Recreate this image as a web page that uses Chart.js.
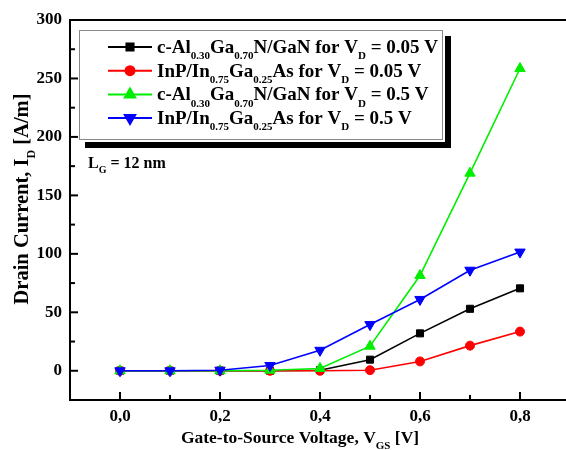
<!DOCTYPE html>
<html>
<head>
<meta charset="utf-8">
<script src="https://cdn.jsdelivr.net/npm/chart.js@4"></script>
<style>
  html, body { margin: 0; padding: 0; background: #fff; overflow: hidden; }
  #wrap { width: 580px; height: 450px; }
</style>
</head>
<body>
<div id="wrap"><canvas id="idChart" width="580" height="450"></canvas></div>
<script>
const vgs = [0.0, 0.1, 0.2, 0.3, 0.4, 0.5, 0.6, 0.7, 0.8];
const alganLow = [0, 0, 0, 0, 0.5, 9.5, 32, 53, 70.5];
const inpLow = [0, 0, 0, 0, 0, 0.5, 8, 21.5, 33.5];
const alganHigh = [0, 0, 0, 0.5, 2, 21, 81.5, 169, 258.5];
const inpHigh = [0, 0, 0.5, 4.5, 17.5, 39.5, 61, 86, 101.5];
const yTicks = [0, 50, 100, 150, 200, 250, 300];
const xTickLabels = ['0,0', '0,2', '0,4', '0,6', '0,8'];

const SERIF = '"Liberation Serif", "DejaVu Serif", serif';

// label pieces: [text, isSubscript]
const legendLabels = [
    [['c-Al', 0], ['0.30', 1], ['Ga', 0], ['0.70', 1], ['N/GaN for V', 0], ['D', 1], [' = 0.05 V', 0]],
    [['InP/In', 0], ['0.75', 1], ['Ga', 0], ['0.25', 1], ['As for V', 0], ['D', 1], [' = 0.05 V', 0]],
    [['c-Al', 0], ['0.30', 1], ['Ga', 0], ['0.70', 1], ['N/GaN for V', 0], ['D', 1], [' = 0.5 V', 0]],
    [['InP/In', 0], ['0.75', 1], ['Ga', 0], ['0.25', 1], ['As for V', 0], ['D', 1], [' = 0.5 V', 0]]
];

function toPoints(arr) {
    return arr.map((v, i) => ({ x: vgs[i], y: v }));
}

function richWidth(ctx, parts, size) {
    let w = 0;
    parts.forEach(([t, sub]) => {
        ctx.font = `bold ${sub ? Math.round(size * 0.6) : size}px ${SERIF}`;
        w += ctx.measureText(t).width;
    });
    return w;
}

function drawRich(ctx, parts, x, y, size) {
    ctx.textBaseline = 'alphabetic';
    ctx.textAlign = 'left';
    parts.forEach(([t, sub]) => {
        ctx.font = `bold ${sub ? Math.round(size * 0.6) : size}px ${SERIF}`;
        ctx.fillText(t, x, sub ? y + size * 0.33 : y);
        x += ctx.measureText(t).width;
    });
}

const decor = {
    id: 'decor',
    afterDraw(chart) {
        const ctx = chart.ctx;
        const a = chart.chartArea;
        const xs = chart.scales.x, ys = chart.scales.y;
        ctx.save();
        ctx.fillStyle = '#000';
        ctx.strokeStyle = '#000';

        // frame top
        ctx.lineWidth = 2;
        ctx.beginPath();
        ctx.moveTo(a.left, a.top);
        ctx.lineTo(a.right, a.top);
        ctx.lineTo(a.right, a.bottom);
        ctx.stroke();

        // inward ticks
        ctx.lineWidth = 2;
        for (let k = -1; k <= 9; k++) {
            const px = xs.getPixelForValue(k / 10);
            const len = k % 2 === 0 ? 8 : 5;
            ctx.beginPath();
            ctx.moveTo(px, a.bottom);
            ctx.lineTo(px, a.bottom - len);
            ctx.stroke();
        }
        for (let v = -25; v <= 300; v += 25) {
            const py = ys.getPixelForValue(v);
            const len = v % 50 === 0 ? 8 : 5;
            ctx.beginPath();
            ctx.moveTo(a.left, py);
            ctx.lineTo(a.left + len, py);
            ctx.stroke();
        }

        // legend box with shadow
        const bx = 79, by = 30, bw = 363, bh = 109;
        ctx.fillStyle = '#000';
        ctx.fillRect(bx + 6, by + bh + 3, bw + 1, 6);
        ctx.fillRect(bx + bw + 3, by + 6, 6, bh + 3);
        ctx.fillStyle = '#fff';
        ctx.fillRect(bx, by, bw, bh);
        ctx.strokeStyle = '#888';
        ctx.lineWidth = 1;
        ctx.strokeRect(bx + 0.5, by + 0.5, bw, bh);

        chart.data.datasets.forEach((ds, i) => {
            const cy = 47 + i * 23.7;
            ctx.strokeStyle = ds.borderColor;
            ctx.lineWidth = 2;
            ctx.beginPath();
            ctx.moveTo(108, cy);
            ctx.lineTo(152, cy);
            ctx.stroke();
            Chart.helpers.drawPoint(ctx, {
                pointStyle: ds.pointStyle,
                radius: ds.pointRadius,
                rotation: ds.pointRotation || 0,
                borderWidth: 1
            }, 130, cy);
            ctx.fillStyle = ds.borderColor;
            ctx.fill();
            ctx.fillStyle = '#000';
            drawRich(ctx, legendLabels[i], 157, cy + 6, 19);
        });

        // gate length note
        drawRich(ctx, [['L', 0], ['G', 1], [' = 12 nm', 0]], 88, 168, 16);

        // axis titles
        const xTitle = [['Gate-to-Source Voltage, V', 0], ['GS', 1], [' [V]', 0]];
        const xw = richWidth(ctx, xTitle, 17.5);
        drawRich(ctx, xTitle, 300 - xw / 2, 443, 17.5);

        const yTitle = [['Drain Current, I', 0], ['D', 1], [' [A/m]', 0]];
        const yw = richWidth(ctx, yTitle, 20.5);
        ctx.translate(28, 199);
        ctx.rotate(-Math.PI / 2);
        drawRich(ctx, yTitle, -yw / 2, 0, 20.5);
        ctx.restore();
    }
};

function series(data, color, style, radius, rot, order) {
    return {
        data: toPoints(data),
        borderColor: color,
        backgroundColor: color,
        borderWidth: 1.6,
        pointStyle: style,
        pointRadius: radius,
        pointRotation: rot,
        pointBorderWidth: 1,
        pointBackgroundColor: color,
        pointBorderColor: color,
        tension: 0,
        order: order
    };
}

new Chart(document.getElementById('idChart'), {
    type: 'line',
    data: {
        datasets: [
            series(alganLow, '#000000', 'rect', 5, 0, 4),
            series(inpLow, '#ff0000', 'circle', 4.5, 0, 3),
            series(alganHigh, '#00ee00', 'triangle', 6, 0, 2),
            series(inpHigh, '#0000ff', 'triangle', 6, 180, 1)
        ]
    },
    options: {
        responsive: false,
        animation: false,
        layout: { padding: { top: 20, right: 10, left: 0, bottom: 0 } },
        plugins: {
            legend: { display: false },
            tooltip: { enabled: false }
        },
        scales: {
            x: {
                type: 'linear',
                min: -0.1,
                max: 0.9,
                afterFit: s => { s.height = 50; },
                afterBuildTicks: s => { s.ticks = [0, 0.2, 0.4, 0.6, 0.8].map(v => ({ value: v })); },
                grid: { display: false, drawTicks: false },
                border: { display: true, color: '#000', width: 2 },
                ticks: {
                    padding: 6,
                    color: '#000',
                    font: { family: SERIF, size: 17, weight: 'bold' },
                    callback: (v, i) => xTickLabels[i]
                }
            },
            y: {
                min: -25,
                max: 300,
                afterFit: s => { s.width = 70; },
                afterBuildTicks: s => { s.ticks = yTicks.map(v => ({ value: v })); },
                grid: { display: false, drawTicks: false },
                border: { display: true, color: '#000', width: 2 },
                ticks: {
                    padding: 8,
                    color: '#000',
                    font: { family: SERIF, size: 17, weight: 'bold' }
                }
            }
        }
    },
    plugins: [decor]
});
</script>
</body>
</html>
